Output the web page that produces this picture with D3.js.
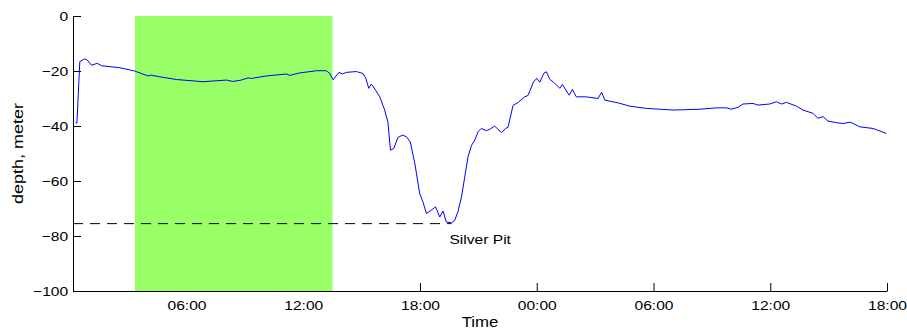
<!DOCTYPE html>
<html>
<head>
<meta charset="utf-8">
<script src="https://cdn.jsdelivr.net/npm/d3@7"></script>
<style>
  body { margin: 0; background: #fff; }
  svg { display: block; font-family: "Liberation Sans", Arial, sans-serif; }
</style>
</head>
<body>
<svg id="chart"></svg>
<script>
  // dive profile, depth in meters
  var times = [
    "1 00:18", "1 00:22", "1 00:31", "1 00:46", "1 00:54", "1 01:07", "1 01:25", "1 01:38",
    "1 02:34", "1 03:20", "1 04:01", "1 04:09", "1 04:37", "1 05:29", "1 06:51", "1 08:03",
    "1 08:23", "1 08:49", "1 09:10", "1 09:20", "1 10:06", "1 11:08", "1 11:18", "1 11:49",
    "1 12:41", "1 13:11", "1 13:22", "1 13:32", "1 13:50", "1 14:01", "1 14:13", "1 14:44",
    "1 15:04", "1 15:13", "1 15:22", "1 15:30", "1 15:35", "1 15:56", "1 16:11", "1 16:21",
    "1 16:29", "1 16:39", "1 16:52", "1 17:06", "1 17:18", "1 17:30", "1 17:44", "1 17:59",
    "1 18:09", "1 18:20", "1 18:35", "1 18:48", "1 19:01", "1 19:11", "1 19:21", "1 19:37",
    "1 19:47", "1 19:57", "1 20:08", "1 20:18", "1 20:28", "1 20:39", "1 20:49", "1 20:59",
    "1 21:09", "1 21:25", "1 21:35", "1 21:50", "1 22:11", "1 22:26", "1 22:31", "1 22:47",
    "1 23:02", "1 23:23", "1 23:33", "1 23:51", "2 00:01", "2 00:09", "2 00:22", "2 00:30",
    "2 00:40", "2 00:55", "2 01:11", "2 01:19", "2 01:40", "2 01:50", "2 02:02", "2 02:33",
    "2 03:09", "2 03:20", "2 03:30", "2 04:11", "2 04:47", "2 05:38", "2 07:00", "2 08:23",
    "2 09:14", "2 09:45", "2 10:00", "2 10:21", "2 10:36", "2 11:07", "2 11:22", "2 11:58",
    "2 12:19", "2 12:35", "2 12:50", "2 13:21", "2 13:41", "2 14:12", "2 14:27", "2 14:43",
    "2 14:58", "2 15:24", "2 15:44", "2 16:07", "2 16:36", "2 17:17", "2 17:58"
  ];
  var depth = [
    -38.7, -39.0, -16.6, -15.6, -16.0, -17.9, -17.2, -18.1,
    -18.8, -20.0, -21.8, -21.5, -22.1, -23.1, -23.9, -23.3,
    -23.8, -23.3, -22.5, -22.7, -21.8, -21.1, -21.6, -20.7,
    -19.9, -19.9, -20.9, -23.2, -20.5, -21.1, -20.5, -20.2,
    -20.9, -22.7, -26.3, -24.8, -25.5, -29.4, -34.2, -38.5,
    -48.8, -48.2, -44.2, -43.3, -43.9, -45.8, -53.6, -64.5,
    -67.6, -71.8, -70.6, -69.4, -73.1, -70.9, -74.9, -75.2,
    -74.3, -71.2, -65.8, -58.5, -51.2, -47.0, -45.1, -42.1,
    -40.9, -41.7, -41.2, -40.0, -42.4, -40.7, -40.6, -32.5,
    -31.5, -29.4, -28.9, -23.7, -22.7, -24.1, -20.8, -20.3,
    -23.0, -24.4, -26.3, -24.9, -28.8, -26.7, -29.4, -29.4,
    -30.0, -27.7, -30.6, -31.6, -32.8, -33.6, -34.2, -33.9,
    -33.4, -33.4, -33.9, -33.2, -32.0, -31.8, -32.4, -32.0,
    -31.2, -32.0, -31.4, -32.8, -34.2, -35.4, -37.2, -36.6,
    -38.2, -38.8, -39.1, -38.6, -40.3, -40.9, -42.7
  ];
  var timeRange = ["1 00:10", "2 18:00"];
  var daylight = ["1 03:21", "1 13:30"];
  var tickTimes = ["1 06:00", "1 12:00", "1 18:00", "2 00:00", "2 06:00", "2 12:00", "2 18:00"];
  var depthTicks = [0, -20, -40, -60, -80, -100];
  var pitDepth = -75.5;
  var pitTime = "1 19:37";
  var pitLabel = "Silver Pit";

  var parseTime = d3.timeParse("2012-06-0%d %H:%M");
  function t(s) { return d3.timeParse("%d %H:%M")(s); }

  var svgWidth = 907, svgHeight = 330;
  var margin = { top: 16, right: 20, bottom: 39, left: 73 };
  var width = svgWidth - margin.left - margin.right;
  var height = svgHeight - margin.top - margin.bottom;
  var stretch = "scale(1.2,1)";

  var svg = d3.select("#chart")
    .attr("width", svgWidth)
    .attr("height", svgHeight);

  var g = svg.append("g")
    .attr("transform", "translate(" + margin.left + "," + margin.top + ")");

  var x = d3.scaleTime().domain(timeRange.map(t)).range([0, width]);
  var y = d3.scaleLinear().domain([-100, 0]).range([height, 0]);

  var xAxis = d3.axisBottom(x)
    .tickValues(tickTimes.map(t))
    .tickFormat(d3.timeFormat("%H:%M"))
    .tickSizeInner(-8)
    .tickSizeOuter(0)
    .tickPadding(10);

  var yAxis = d3.axisLeft(y)
    .tickValues(depthTicks)
    .tickSizeInner(-8)
    .tickSizeOuter(0)
    .tickPadding(4);

  var gx = g.append("g")
    .attr("transform", "translate(0," + height + ")")
    .call(xAxis);
  var gy = g.append("g").call(yAxis);

  [gx, gy].forEach(function(a) {
    a.attr("font-family", null).attr("font-size", null);
    a.selectAll("text")
      .attr("fill", "#000")
      .style("font-size", "13px")
      .attr("transform", stretch);
    a.selectAll("line, path").attr("stroke", "#000");
  });

  // daylight band
  g.append("rect")
    .attr("x", x(t(daylight[0])))
    .attr("y", y(0))
    .attr("width", x(t(daylight[1])) - x(t(daylight[0])))
    .attr("height", y(-100) - y(0))
    .attr("fill", "#99ff66");

  // reference depth of the pit
  g.append("line")
    .attr("x1", x(t(timeRange[0])))
    .attr("x2", x(t(pitTime)))
    .attr("y1", y(pitDepth))
    .attr("y2", y(pitDepth))
    .attr("stroke", "#000")
    .attr("stroke-width", 1)
    .attr("stroke-dasharray", "10,7");

  g.append("text")
    .attr("transform", "translate(" + (x(t(pitTime)) - 2) + "," + (y(pitDepth) + 20) + ") " + stretch)
    .style("font-size", "13px")
    .text(pitLabel);

  var data = times.map(function(s, i) { return { ts: t(s), d: depth[i] }; });

  var line = d3.line()
    .x(function(d) { return x(d.ts); })
    .y(function(d) { return y(d.d); });

  g.append("path")
    .datum(data)
    .attr("fill", "none")
    .attr("stroke", "#0000ff")
    .attr("stroke-width", 1)
    .attr("stroke-linejoin", "round")
    .attr("d", line);

  svg.append("text")
    .attr("transform", "translate(" + (margin.left + width / 2) + ",327) " + stretch)
    .attr("text-anchor", "middle")
    .style("font-size", "14px")
    .text("Time");

  svg.append("text")
    .attr("transform", "translate(23," + (margin.top + height / 2) + ") rotate(-90) " + stretch)
    .attr("text-anchor", "middle")
    .style("font-size", "15px")
    .text("depth, meter");
</script>
</body>
</html>
